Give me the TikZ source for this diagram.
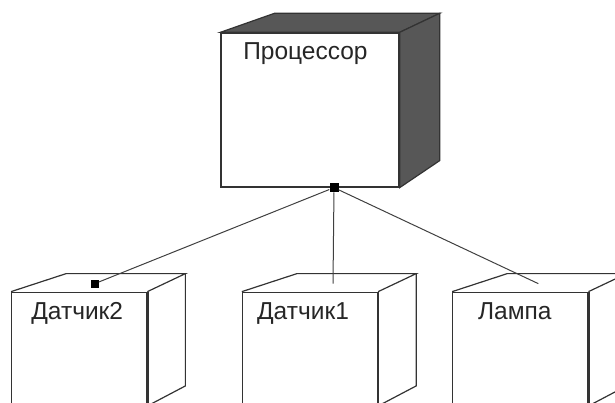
\documentclass[tikz,border=0pt]{standalone}
\usepackage{fontspec}
\setmainfont{Liberation Sans}
\usetikzlibrary{calc,positioning}
% top and side faces of an unshaded box, given the name of its front face
\def\smallcube(#1){%
  \draw[edge] (#1.north west) -- ++(55,18) -- ($(#1.north east)+(38,18)$) -- (#1.north east);
  \draw[edge] ($(#1.north east)+(38,18)$) -- ($(#1.south east)+(38,20)$) -- (#1.south east);
  \draw[edge, line width=2.6pt] (#1.north east) -- (#1.south east);}

\tikzset{
  front/.style={draw=black!80, line width=1.3pt, fill=white, inner sep=0pt,
    minimum width=135pt, minimum height=113pt},
  edge/.style={draw=black!80, line width=1.2pt},
  dark/.style={fill=black!66, draw=black!80, line width=1.2pt},
  title/.style={font=\fontsize{24.5}{28}\selectfont, text=black!85, inner sep=0pt},
  port/.style={fill=black, inner sep=0pt, minimum size=#1},
  wire/.style={draw=black!75, line width=1pt}
}

\begin{document}
\begin{tikzpicture}[x=1pt,y=1pt]
  %%%%% START %%%%%
  \clip (0,0) rectangle (615,403);

  % processor
  \node[front, minimum width=178pt, minimum height=154pt] (proc) at (310,293) {};
  \filldraw[dark] (proc.north west) -- ++(54,19) -- ($(proc.north east)+(40,19)$) -- (proc.north east) -- cycle;
  \filldraw[dark] (proc.north east) -- ++(40,19) -- ($(proc.south east)+(40,27)$) -- (proc.south east) -- cycle;
  \node[title, below=10pt of proc.north, xshift=-4.5pt] (proctxt) {Процессор};

  % devices
  \node[front, below=104pt of proc] (dat1) {};
  \node[front, left=94.5pt of dat1] (dat2) {};
  \node[front, right=74pt of dat1] (lamp) {};
  \smallcube(dat2)
  \smallcube(dat1)
  \smallcube(lamp)
  \node[title, below=11pt of dat2.north, xshift=-2pt] (dat2txt) {Датчик2};
  \node[title, below=11pt of dat1.north, xshift=-7pt] (dat1txt) {Датчик1};
  \node[title, below=11pt of lamp.north, xshift=-5.5pt] (lamptxt) {Лампа};

  % links
  \node[port=9pt] (procport) at ($(proc.south)+(24,0)$) {};
  \node[port=8pt] (dat2port) at ($(dat2.north)+(15.5,8)$) {};
  \coordinate (dat1end) at ($(dat1.north)+(23,8)$);
  \coordinate (lampend) at ($(lamp.north)+(18,8)$);
  \draw[wire] (procport) -- (dat2port);
  \draw[wire] (procport) -- (dat1end);
  \draw[wire] (procport) -- (lampend);
  %%%%% END %%%%%
\end{tikzpicture}
\end{document}
